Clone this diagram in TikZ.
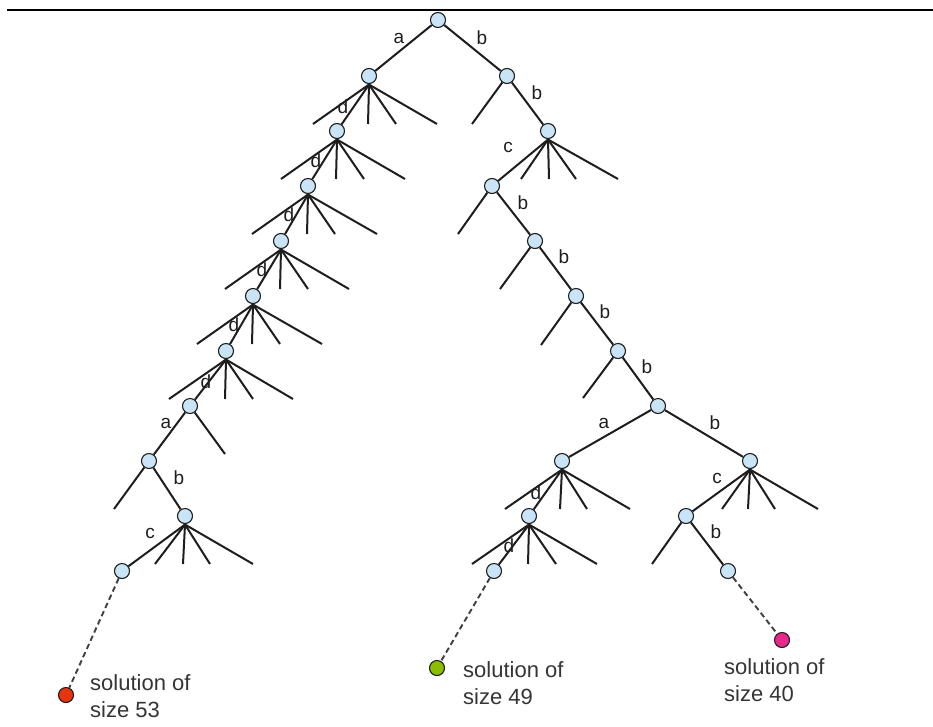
\documentclass[tikz,border=0pt]{standalone}
\usepackage{fontspec}
\setmainfont{Liberation Sans}
\definecolor{nodeblue}{RGB}{200,228,246}
\definecolor{solred}{RGB}{232,52,12}
\definecolor{solgreen}{RGB}{140,190,0}
\definecolor{solpink}{RGB}{232,40,140}
\definecolor{ink}{RGB}{30,30,30}
\tikzset{
  vtx/.style={circle, draw=ink, fill=nodeblue, line width=1.1pt, minimum size=15pt, inner sep=0pt},
  solvtx/.style={vtx, fill=#1},
  edge/.style={line width=2pt, draw=ink},
  tail/.style={line width=1.9pt, draw=ink!85, dash pattern=on 5.5pt off 3.5pt},
  lbl/.style={font=\fontsize{19}{19}\selectfont, text=ink, inner sep=0pt},
  caption/.style={font=\fontsize{22}{27}\selectfont, text=ink!90, inner sep=0pt, align=left, anchor=north west}
}
\begin{document}
\begin{tikzpicture}[x=1pt,y=-1pt]
\useasboundingbox[fill=white] (0,0) rectangle (933,726);
\draw[line width=2.6pt, black] (7,10) -- (933,10);

% search-tree vertices
\node[vtx] (r)    at (438,20) {};
\node[vtx] (L1)   at (369,76) {};
\node[vtx] (R1)   at (507,76) {};
\node[vtx] (Ld1)  at (337,131) {};
\node[vtx] (Ld2)  at (308,186) {};
\node[vtx] (Ld3)  at (281,241) {};
\node[vtx] (Ld4)  at (253,296) {};
\node[vtx] (Ld5)  at (226,351) {};
\node[vtx] (La)   at (190,406) {};
\node[vtx] (Lb)   at (149,461) {};
\node[vtx] (Lc)   at (185,516) {};
\node[vtx] (Lx)   at (122,571) {};
\node[vtx] (R2)   at (548,131) {};
\node[vtx] (Rc)   at (492,186) {};
\node[vtx] (Rb1)  at (535,241) {};
\node[vtx] (Rb2)  at (576,296) {};
\node[vtx] (Rb3)  at (618,351) {};
\node[vtx] (Rb4)  at (658,406) {};
\node[vtx] (RA)   at (562,461) {};
\node[vtx] (RAd)  at (529,516) {};
\node[vtx] (RAdd) at (494,571) {};
\node[vtx] (RB)   at (750,461) {};
\node[vtx] (RBc)  at (686,516) {};
\node[vtx] (RBcb) at (728,571) {};

% solutions
\node[solvtx=solred]   (s53) at (66,695) {};
\node[solvtx=solgreen] (s49) at (437,668) {};
\node[solvtx=solpink]  (s40) at (782,640) {};

% five-way branchings: four open branches from a hub under the vertex
\foreach \v/\a/\b/\c/\d/\yy in {
    L1/313/368/396/437/124, Ld1/281/336/364/405/179, Ld2/252/307/335/377/234,
    Ld3/225/280/308/349/289, Ld4/197/252/280/322/344, Ld5/169/225/253/293/399,
    R2/521/549/576/618/179, RA/505/560/587/630/509, RAd/472/528/556/597/564,
    RB/722/748/775/818/509, Lc/155/183/210/253/564} {
  \coordinate (\v-hub) at ([yshift=-0.5pt]\v.south);
  \foreach \e [count=\i] in {\a,\b,\c,\d} {
    \coordinate (\v-e\i) at (\e,\yy);
    \draw[edge] (\v-hub) -- (\v-e\i);
  }
}

% two-way branchings: one open branch
\foreach \v/\x/\y in {R1/472/124, Rc/458/234, Rb1/500/289, Rb2/541/345,
    Rb3/583/398, La/225/454, Lb/114/509, RBc/652/564} {
  \coordinate (\v-leg) at (\x,\y);
  \draw[edge] (\v) -- (\v-leg);
}

% explored branches
\draw[edge] (r) -- (L1);
\draw[edge] (r) -- (R1);
\draw[edge] (L1-hub) -- (Ld1);
\draw[edge] (Ld1-hub) -- (Ld2);
\draw[edge] (Ld2-hub) -- (Ld3);
\draw[edge] (Ld3-hub) -- (Ld4);
\draw[edge] (Ld4-hub) -- (Ld5);
\draw[edge] (Ld5-hub) -- (La);
\draw[edge] (La) -- (Lb);
\draw[edge] (Lb) -- (Lc);
\draw[edge] (Lc-hub) -- (Lx);
\draw[edge] (R1) -- (R2);
\draw[edge] (R2-hub) -- (Rc);
\draw[edge] (Rc) -- (Rb1);
\draw[edge] (Rb1) -- (Rb2);
\draw[edge] (Rb2) -- (Rb3);
\draw[edge] (Rb3) -- (Rb4);
\draw[edge] (Rb4) -- (RA);
\draw[edge] (Rb4) -- (RB);
\draw[edge] (RA-hub) -- (RAd);
\draw[edge] (RAd-hub) -- (RAdd);
\draw[edge] (RB-hub) -- (RBc);
\draw[edge] (RBc) -- (RBcb);

% paths down to the solutions
\draw[tail] (Lx) -- (s53);
\draw[tail] (RAdd) -- (s49);
\draw[tail] (RBcb) -- (s40);

% branch labels
\node[lbl] (t1)  at (399,38) {a};
\node[lbl] (t2)  at (482,38) {b};
\node[lbl] (t3)  at (537,93) {b};
\node[lbl] (t4)  at (508,147) {c};
\node[lbl] (t5)  at (523,203) {b};
\node[lbl] (t6)  at (564,257) {b};
\node[lbl] (t7)  at (605,312) {b};
\node[lbl] (t8)  at (647,367) {b};
\node[lbl] (t9)  at (604,423) {a};
\node[lbl] (t10) at (715,423) {b};
\node[lbl] (t11) at (536,493) {d};
\node[lbl] (t12) at (509,546) {d};
\node[lbl] (t13) at (717,478) {c};
\node[lbl] (t14) at (716,532) {b};
\node[lbl] (t15) at (343,107) {d};
\node[lbl] (t16) at (316,161) {d};
\node[lbl] (t17) at (289,215) {d};
\node[lbl] (t18) at (262,270) {d};
\node[lbl] (t19) at (234,325) {d};
\node[lbl] (t20) at (206,382) {d};
\node[lbl] (t21) at (166,423) {a};
\node[lbl] (t22) at (179,478) {b};
\node[lbl] (t23) at (150,533) {c};

% solution captions
\node[caption] (c53) at (90,674) {solution of\\size 53};
\node[caption] (c49) at (463,661) {solution of\\size 49};
\node[caption] (c40) at (724,658) {solution of\\size 40};
\end{tikzpicture}
\end{document}
